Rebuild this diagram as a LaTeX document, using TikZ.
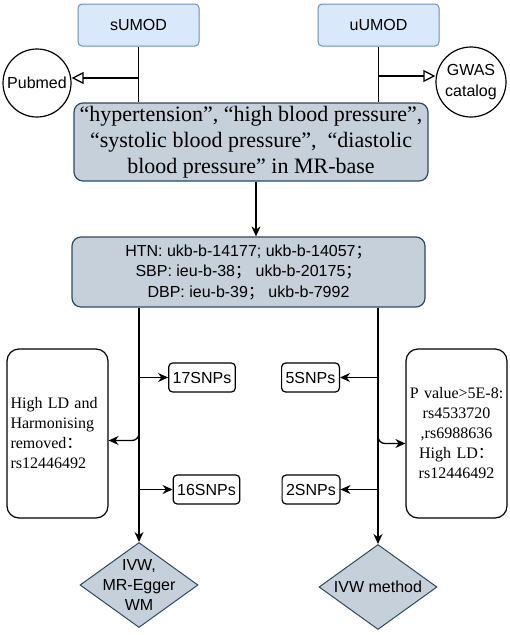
\documentclass[tikz,border=0pt]{standalone}
\usepackage{fontspec}
\setmainfont{Liberation Serif}
\setsansfont{Liberation Sans}
\newfontfamily\cjk{Noto Sans CJK SC}
\newcommand{\fw}[1]{{\cjk #1}}
\usetikzlibrary{arrows.meta}
\usetikzlibrary{shapes.geometric}
\pgfdeclarelayer{edgelayer}
\pgfdeclarelayer{nodelayer}
\pgfsetlayers{edgelayer,nodelayer,main}
\definecolor{umodfill}{HTML}{DAE8FC}
\definecolor{umoddraw}{HTML}{6C8EBF}
\definecolor{slatefill}{HTML}{C6D0DA}
\definecolor{slatedraw}{HTML}{2B4A63}
\tikzstyle{source}=[rectangle,rounded corners=4pt,fill=umodfill,draw=umoddraw,line width=1pt,minimum width=121pt,minimum height=42pt,font=\sffamily\fontsize{16pt}{20pt}\selectfont]
\tikzstyle{database}=[circle,fill=white,draw=black,line width=1.2pt,inner sep=0pt,align=center,font=\sffamily\fontsize{16pt}{21pt}\selectfont]
\tikzstyle{query}=[rectangle,rounded corners=9pt,fill=slatefill,draw=slatedraw,line width=1.2pt,align=center,inner sep=0pt]
\tikzstyle{snpcount}=[rectangle,rounded corners=4pt,fill=white,draw=black,line width=1.2pt,minimum height=29pt,inner xsep=4pt,font=\sffamily\fontsize{16pt}{20pt}\selectfont]
\tikzstyle{note}=[rectangle,rounded corners=12pt,fill=white,draw=black,line width=1.2pt,minimum width=101pt,minimum height=169pt,text width=94pt,inner xsep=3.5pt,font=\fontsize{16pt}{20pt}\selectfont]
\tikzstyle{method}=[diamond,fill=slatefill,draw=slatedraw,line width=1pt,minimum width=118pt,minimum height=85pt,inner sep=0pt]
\tikzstyle{methodtext}=[align=center,font=\sffamily\fontsize{16pt}{20pt}\selectfont]
\tikzstyle{link}=[draw=black,line width=1.3pt]
\tikzstyle{transition}=[-{Stealth[length=10pt,width=9pt]},draw=black,line width=1.3pt]
\tikzstyle{lookup}=[-{Triangle[open,length=12pt,width=12pt]},draw=black,line width=1.3pt]

\begin{document}
\begin{tikzpicture}[x=1pt,y=1pt]
	\useasboundingbox (0,0) rectangle (510,-635);
	\begin{pgfonlayer}{nodelayer}
		\node [style=source] (0) at (138.5, -25) {sUMOD};
		\node [style=source] (1) at (378.5, -25) {uUMOD};
		\node [style=database, minimum size=68pt] (2) at (37, -83) {Pubmed};
		\node [style=database, minimum size=70pt] (3) at (471, -82) {GWAS\\catalog};
		\node [style=query, minimum width=354pt, minimum height=78pt, font=\fontsize{22pt}{26pt}\selectfont] (4) at (251, -142) {“hypertension”, “high blood pressure”,\\“systolic blood pressure”,\ \ “diastolic\\blood pressure” in MR-base};
		\node [style=query, minimum width=353pt, minimum height=70pt, font=\sffamily\fontsize{16pt}{20.5pt}\selectfont] (5) at (248.5, -272) {HTN: ukb-b-14177; ukb-b-14057\fw{；}\\SBP: ieu-b-38\fw{；} ukb-b-20175\fw{；}\\DBP: ieu-b-39\fw{；} ukb-b-7992};
		\node [style=snpcount] (6) at (202, -377.5) {17SNPs};
		\node [style=snpcount] (7) at (310.5, -377.5) {5SNPs};
		\node [style=snpcount] (8) at (206.5, -489.5) {16SNPs};
		\node [style=snpcount] (9) at (311, -489.5) {2SNPs};
		\node [style=note, align=left] (10) at (57.5, -433.5) {High LD and\\Harmonising\\removed\fw{：}\\rs12446492};
		\node [style=note, align=center] (11) at (456.5, -433.5) {P value>5E-8:\\rs4533720\\,rs6988636\\High LD\fw{：}\\rs12446492};
		\node [style=method, label={[style=methodtext]center:{IVW,\\MR-Egger\\WM}}] (12) at (139, -585) {};
		\node [style=method, label={[style=methodtext]center:{IVW method}}] (13) at (378, -587) {};
		\coordinate (14) at (138.5, -78);
		\coordinate (15) at (378.5, -76);
		\coordinate (16) at (256, -210);
		\coordinate (17) at (139, -427);
		\coordinate (18) at (378, -431);
	\end{pgfonlayer}
	\begin{pgfonlayer}{edgelayer}
		\draw [style=link] (0.south) to (0.south |- 4.north);
		\draw [style=link] (1.south) to (1.south |- 4.north);
		\draw [style=lookup] (14) to (14 -| 2.east);
		\draw [style=lookup] (15) to (15 -| 3.west);
		\draw [style=transition] (4.south -| 16) to (5.north -| 16);
		\draw [style=transition] (5.south -| 12) to (12.north);
		\draw [style=transition] (5.south -| 13) to (13.north);
		\draw [style=transition] (6.west -| 12) to (6.west);
		\draw [style=transition] (8.west -| 12) to (8.west);
		\draw [style=transition] (7.east -| 13) to (7.east);
		\draw [style=transition] (9.east -| 13) to (9.east);
		\draw [style=transition, rounded corners=7pt] (17) |- ([yshift=-7pt]10.east);
		\draw [style=transition, rounded corners=7pt] (18) |- ([yshift=-10pt]11.west);
	\end{pgfonlayer}
\end{tikzpicture}
\end{document}
